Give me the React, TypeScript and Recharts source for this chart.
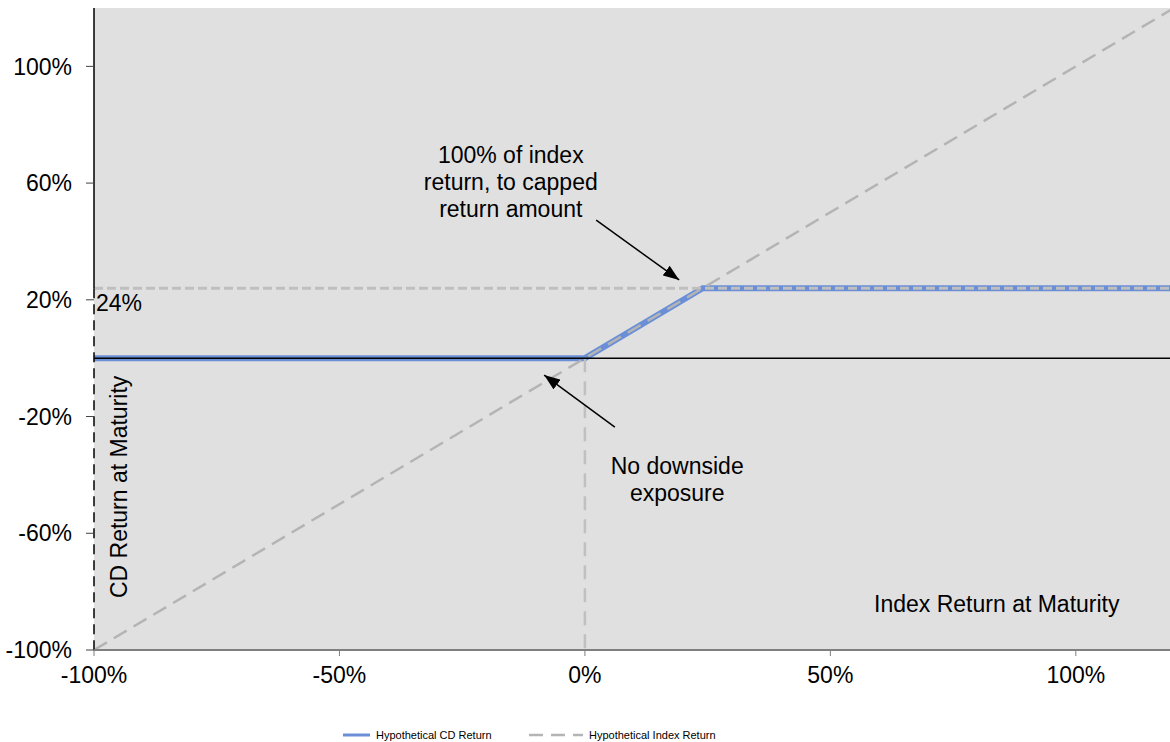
import { LineChart, Line, XAxis, YAxis, CartesianGrid, Legend, ReferenceLine, ReferenceDot } from 'recharts'

const FONT = '"Liberation Sans", Arial, sans-serif'
const CD_BLUE = '#6a8fd6'
const DASH_GRAY = '#b4b4b4'

// payoff points
const cdPoints = [-100, 0, 24, 120]
const cdReturns = [0, 0, 24, 24]
const indexPoints = [-100, 120]
const indexReturns = [-100, 120]
const CAP = 24
const xTicks = [-100, -50, 0, 50, 100]
const yTicks = [-100, -60, -20, 20, 60, 100]
const seriesNames = ['Hypothetical CD Return', 'Hypothetical Index Return']

const cdData = cdPoints.map((x, i) => ({ x, y: cdReturns[i] }))
const indexData = indexPoints.map((x, i) => ({ x, y: indexReturns[i] }))
const capData = [{ x: -100, y: CAP }, { x: 120, y: CAP }]
const zeroData = [{ x: -100, y: 0 }, { x: 120, y: 0 }]
const floorGuide = [{ x: 0, y: 0 }, { x: 0, y: -100 }]

const pct = (v: number) => `${v}%`

const Arrow = (p: any) => (
  <line x1={p.x1} y1={p.y1} x2={p.x2} y2={p.y2} stroke="#000" strokeWidth={1.5} markerEnd="url(#arrowHead)" />
)

const note = (lines: string[], anchor: 'start' | 'middle' = 'middle', rotate = false) => (p: any) => (
  <text
    x={p.cx}
    y={p.cy}
    textAnchor={anchor}
    fontSize={23}
    fontFamily={FONT}
    fill="#000"
    transform={rotate ? `rotate(-90, ${p.cx}, ${p.cy})` : undefined}
  >
    {lines.map((l, i) => (
      <tspan key={i} x={p.cx} dy={i ? 27 : 0}>
        {l}
      </tspan>
    ))}
  </text>
)

const LegendContent = () => (
  <svg width={1170} height={14} style={{ display: 'block' }}>
    <line x1={343} x2={370} y1={7} y2={7} stroke={CD_BLUE} strokeWidth={3} />
    <text x={376} y={11} fontSize={11} fontFamily={FONT} fill="#000">
      {seriesNames[0]}
    </text>
    <line x1={529} x2={583} y1={7} y2={7} stroke={DASH_GRAY} strokeWidth={2.5} strokeDasharray="14 8" />
    <text x={589} y={11} fontSize={11} fontFamily={FONT} fill="#000">
      {seriesNames[1]}
    </text>
  </svg>
)

export default function App() {
  return (
    <div style={{ position: 'absolute', left: 0, top: 0, width: 1170, height: 742, overflow: 'hidden', background: '#fff' }}>
      <LineChart width={1174} height={742} margin={{ top: 8, right: 0, bottom: 0, left: 0 }}>
        <defs>
          <marker id="arrowHead" markerUnits="userSpaceOnUse" markerWidth={16} markerHeight={12} refX={16} refY={6} orient="auto">
            <path d="M0,0 L16,6 L0,12 z" fill="#000" />
          </marker>
        </defs>
        <CartesianGrid horizontal={false} vertical={false} fill="#e0e0e0" stroke="none" />
        <XAxis
          type="number"
          dataKey="x"
          domain={[-100, 120]}
          ticks={xTicks}
          interval={0}
          tickFormatter={pct}
          height={78}
          tickSize={6}
          tickMargin={11}
          axisLine={{ stroke: '#7f7f7f', strokeWidth: 2 }}
          tickLine={{ stroke: '#7f7f7f' }}
          tick={{ fill: '#000', fontSize: 23, fontFamily: FONT }}
        />
        <YAxis
          type="number"
          domain={[-100, 120]}
          ticks={yTicks}
          interval={0}
          tickFormatter={pct}
          width={94}
          tickSize={8}
          tickMargin={14}
          axisLine={false}
          tickLine={{ stroke: '#404040' }}
          tick={{ fill: '#000', fontSize: 23, fontFamily: FONT }}
        />
        <Legend verticalAlign="bottom" content={LegendContent} wrapperStyle={{ left: 0, bottom: 0, width: 1170, height: 14 }} />

        <Line data={cdData} dataKey="y" name={seriesNames[0]} type="linear" stroke={CD_BLUE} strokeWidth={6} dot={false} activeDot={false} isAnimationActive={false} />
        <Line data={capData} dataKey="y" legendType="none" type="linear" stroke="#bfbfbf" strokeWidth={3} strokeDasharray="9 4" dot={false} activeDot={false} isAnimationActive={false} />
        <Line data={indexData} dataKey="y" name={seriesNames[1]} type="linear" stroke={DASH_GRAY} strokeWidth={2.5} strokeDasharray="15 8" dot={false} activeDot={false} isAnimationActive={false} />
        <Line data={floorGuide} dataKey="y" legendType="none" type="linear" stroke="#c0c0c0" strokeWidth={2.5} strokeDasharray="14 9" dot={false} activeDot={false} isAnimationActive={false} />
        <Line data={zeroData} dataKey="y" legendType="none" type="linear" stroke="#000" strokeWidth={1.5} dot={false} activeDot={false} isAnimationActive={false} />

        <ReferenceLine segment={[{ x: -100, y: 120 }, { x: -100, y: CAP }]} stroke="#000" strokeWidth={1.5} />
        <ReferenceLine segment={[{ x: -100, y: CAP }, { x: -100, y: -100 }]} stroke="#000" strokeWidth={1.5} strokeDasharray="10 6" />

        <ReferenceLine segment={[{ x: 2.3, y: 47.3 }, { x: 19.2, y: 26.8 }]} shape={Arrow} />
        <ReferenceLine segment={[{ x: 6.1, y: -23.6 }, { x: -8.3, y: -5.8 }]} shape={Arrow} />

        <ReferenceDot x={-15.1} y={66.9} shape={note(['100% of index', 'return, to capped', 'return amount'])} />
        <ReferenceDot x={18.8} y={-39.7} shape={note(['No downside', 'exposure'])} />
        <ReferenceDot x={58.9} y={-87} shape={note(['Index Return at Maturity'], 'start')} />
        <ReferenceDot x={-99.6} y={16.2} shape={note([`${CAP}%`], 'start')} />
        <ReferenceDot x={-93.3} y={-44.1} shape={note(['CD Return at Maturity'], 'middle', true)} />
      </LineChart>
    </div>
  )
}
